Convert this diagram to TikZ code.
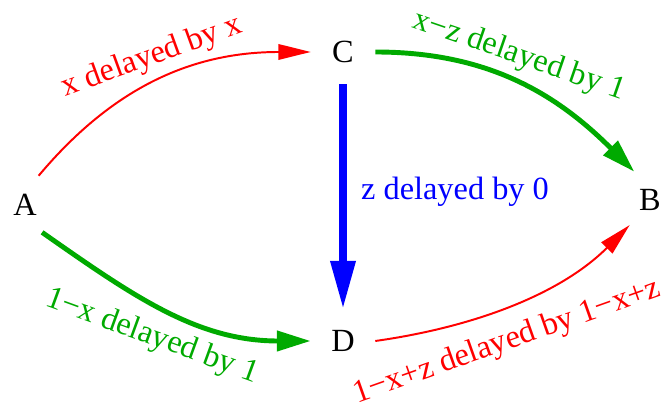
\documentclass[tikz,border=0pt]{standalone}
\usepackage{fontspec}
\setmainfont{Liberation Serif}
\usetikzlibrary{arrows.meta}
\definecolor{flowgreen}{RGB}{0,170,0}
\begin{document}
\begin{tikzpicture}[
  vertex/.style={circle,minimum size=1.6cm,inner sep=0pt,font=\fontsize{23}{27}\selectfont},
  lbl/.style={font=\fontsize{23}{27}\selectfont,inner sep=0pt},
  redflow/.style={red,line width=1.4pt,-{Triangle[length=23pt,width=11pt]}},
  greenflow/.style={flowgreen,line width=3.5pt,-{Triangle[length=24pt,width=14pt]}},
  blueflow/.style={blue,line width=5pt,-{Triangle[length=34pt,width=17pt]}}
]
\useasboundingbox (0,0) rectangle (16.575,10.2);

% vertices
\node[vertex] (A) at (0.625,5.075) {A};
\node[vertex] (C) at (8.575,8.9) {C};
\node[vertex] (D) at (8.575,1.675) {D};
\node[vertex] (B) at (16.25,5.2) {B};

% upper route
\draw[redflow] (A.65) to[out=50,in=180] (C.west);
\node[lbl,red,rotate=20] (lAC) at (3.8,8.775) {x delayed by x};
\draw[greenflow] (C.east) to[out=0,in=135] (B.119);
\node[lbl,flowgreen,rotate=-19] (lCB) at (12.975,8.8) {x−z delayed by 1};

% lower route
\draw[greenflow] (A.-58) to[out=-35,in=180] (D.west);
\node[lbl,flowgreen,rotate=-20] (lAD) at (3.8,1.775) {1−x delayed by 1};
\draw[redflow] (D.east) to[out=8,in=-135,looseness=.9] (B.-129);
\node[lbl,red,rotate=19.5] (lDB) at (12.675,1.65) {1−x+z delayed by 1−x+z};

% cross link
\draw[blueflow] (C.south) -- (D.north);
\node[lbl,blue] (lCD) at (11.375,5.4) {z delayed by 0};
\end{tikzpicture}
\end{document}
